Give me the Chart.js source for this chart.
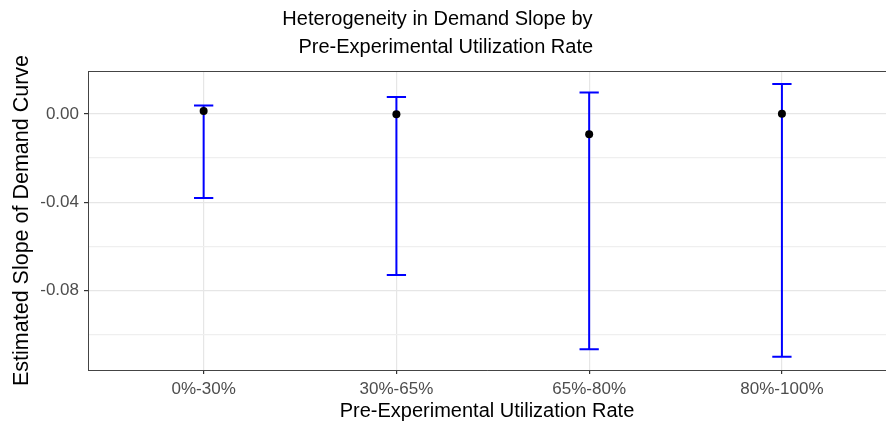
<!DOCTYPE html>
<html lang="en">
<head>
  <meta charset="UTF-8">
  <title>Heterogeneity in Demand Slope</title>
  <script src="https://cdn.jsdelivr.net/npm/chart.js"></script>
  <style>
    body { margin: 0; background: #fff; }
    #wrap { width: 886px; height: 426px; }
  </style>
</head>
<body>
  <div id="wrap"><canvas id="slopeChart" width="886" height="426"></canvas></div>

  <script>
    // values
    const categories = ['0%-30%', '30%-65%', '65%-80%', '80%-100%'];
    const estimates = [0.0014, -0.0001, -0.0092, 0.0001];
    const lowerCI = [-0.0381, -0.0730, -0.1067, -0.1101];
    const upperCI = [0.0038, 0.0077, 0.0098, 0.0136];
    const yTicks = [-0.10, -0.08, -0.06, -0.04, -0.02, 0.00];

    const capHalf = 0.05;
    const font = "'Liberation Sans', Arial, sans-serif";

    // error bars as line segments separated by gaps
    const errData = [];
    categories.forEach((c, i) => {
      errData.push({x: i - capHalf, y: upperCI[i]}, {x: i + capHalf, y: upperCI[i]}, {x: i, y: null});
      errData.push({x: i, y: upperCI[i]}, {x: i, y: lowerCI[i]}, {x: i, y: null});
      errData.push({x: i - capHalf, y: lowerCI[i]}, {x: i + capHalf, y: lowerCI[i]}, {x: i, y: null});
    });
    const pointData = categories.map((c, i) => ({x: i, y: estimates[i]}));

    const isMajor = v => Math.round(v / 0.02) % 2 === 0;

    // top edge of the panel border
    const panelTop = {
      id: 'panelTop',
      afterDraw(chart) {
        const {ctx, chartArea} = chart;
        ctx.save();
        ctx.strokeStyle = '#444';
        ctx.lineWidth = 1;
        ctx.beginPath();
        ctx.moveTo(chartArea.left, chartArea.top + 0.5);
        ctx.lineTo(chartArea.right, chartArea.top + 0.5);
        ctx.stroke();
        ctx.restore();
      }
    };

    const ctx = document.getElementById('slopeChart').getContext('2d');
    new Chart(ctx, {
      type: 'line',
      data: {
        datasets: [
          {
            data: pointData,
            showLine: false,
            pointRadius: 4,
            pointBackgroundColor: '#000',
            pointBorderColor: '#000',
            pointBorderWidth: 0,
            order: 0
          },
          {
            data: errData,
            borderColor: '#0000ff',
            borderWidth: 2,
            pointRadius: 0,
            spanGaps: false,
            fill: false,
            order: 1
          }
        ]
      },
      options: {
        responsive: false,
        animation: false,
        layout: { padding: 0, autoPadding: false },
        plugins: {
          legend: { display: false },
          tooltip: { enabled: false },
          title: {
            display: true,
            text: ['Heterogeneity in Demand Slope by  ', ' Pre-Experimental Utilization Rate'],
            color: '#000',
            font: { family: font, size: 20, weight: 'normal', lineHeight: 1.4 },
            padding: { top: 5, bottom: 10 }
          }
        },
        scales: {
          x: {
            type: 'linear',
            min: -0.6,
            max: 3.54,
            afterBuildTicks: s => { s.ticks = categories.map((c, i) => ({value: i})); },
            afterFit: s => { s.height = 56; },
            ticks: {
              callback: v => categories[v],
              color: '#4d4d4d',
              font: { family: font, size: 17 },
              padding: 5,
              maxRotation: 0
            },
            grid: {
              color: '#e6e6e6',
              lineWidth: 1.2,
              tickColor: '#333',
              tickLength: 4
            },
            border: { display: true, color: '#444', width: 1 },
            title: {
              display: true,
              text: 'Pre-Experimental Utilization Rate',
              color: '#000',
              font: { family: font, size: 20, lineHeight: 1.2 },
              padding: { top: 0, bottom: 3 }
            }
          },
          y: {
            min: -0.1161,
            max: 0.0195,
            afterBuildTicks: s => { s.ticks = yTicks.map(v => ({value: v})); },
            afterFit: s => { s.width = 88; },
            ticks: {
              callback: v => isMajor(v) ? v.toFixed(2).replace('-0.00', '0.00') : '',
              color: '#4d4d4d',
              font: { family: font, size: 17 },
              padding: 5
            },
            grid: {
              color: c => isMajor(c.tick.value) ? '#e6e6e6' : '#efefef',
              lineWidth: 1.2,
              tickColor: c => isMajor(c.tick.value) ? '#333' : 'rgba(0,0,0,0)',
              tickLength: 4
            },
            border: { display: true, color: '#444', width: 1 },
            title: {
              display: true,
              text: 'Estimated Slope of Demand Curve',
              color: '#000',
              font: { family: font, size: 21.5, lineHeight: 1.2 },
              padding: { top: 9, bottom: 0 }
            }
          }
        }
      },
      plugins: [panelTop]
    });
  </script>
</body>
</html>
